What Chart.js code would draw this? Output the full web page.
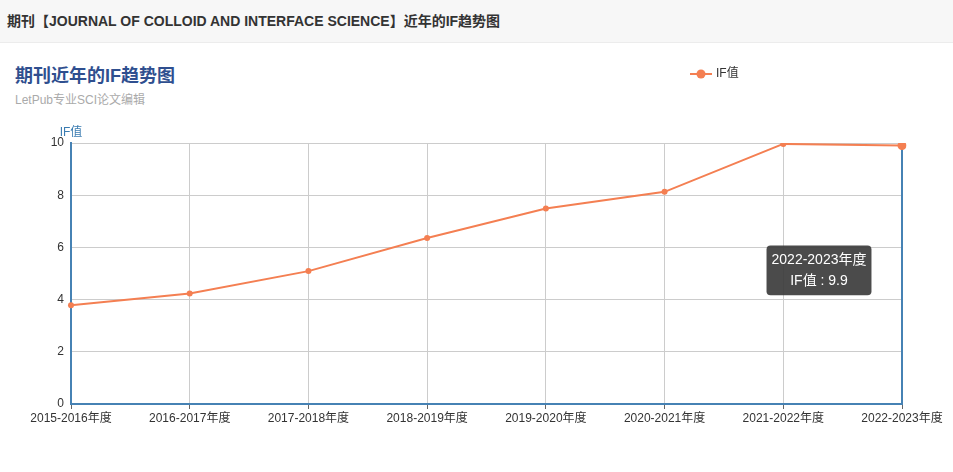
<!DOCTYPE html>
<html>
<head>
<meta charset="utf-8">
<script src="https://cdn.jsdelivr.net/npm/chart.js@4.4.1/dist/chart.umd.min.js"></script>
<style>
    body { margin: 0; background: #fff; font-family: "Liberation Sans", "Noto Sans CJK SC", sans-serif; }
    .header { position: absolute; left: 0; top: 0; width: 953px; height: 42px; background: #f7f7f7; border-bottom: 1px solid #ececec; }
    .header span { position: absolute; left: 7px; top: 13px; font-size: 14px; font-weight: bold; color: #333; line-height: 16px; }
    .title { position: absolute; left: 15px; top: 65px; font-size: 18px; font-weight: bold; color: #2f4f8f; line-height: 22px; }
    .subtitle { position: absolute; left: 15px; top: 93px; font-size: 12px; color: #aaa; line-height: 14px; }
    .wrap { position: absolute; left: 0; top: 43px; width: 953px; height: 429px; }
</style>
</head>
<body>
<div class="header"><span>期刊【JOURNAL OF COLLOID AND INTERFACE SCIENCE】近年的IF趋势图</span></div>
<div class="title">期刊近年的IF趋势图</div>
<div class="subtitle">LetPub专业SCI论文编辑</div>
<div class="wrap"><canvas id="ifChart" width="953" height="429"></canvas></div>
<script>
// Datos del gráfico
const years = ['2015-2016年度', '2016-2017年度', '2017-2018年度', '2018-2019年度', '2019-2020年度', '2020-2021年度', '2021-2022年度', '2022-2023年度'];
const ifValues = [3.782, 4.233, 5.091, 6.361, 7.489, 8.128, 9.965, 9.9];
const yTicks = [0, 2, 4, 6, 8, 10];

const lineColor = '#f47f52';
const axisBlue = '#4682b4';
const fontFam = '"Liberation Sans", "Noto Sans CJK SC", sans-serif';

// Posición fija del tooltip, relativa al punto activo
Chart.Tooltip.positioners.pinned = function (elements) {
    if (!elements.length) return false;
    const el = elements[0].element;
    return { x: el.x - 83, y: el.y + 100 };
};

// Línea vertical del puntero + título del eje y + leyenda
const extras = {
    id: 'extras',
    beforeDatasetsDraw(chart) {
        const ctx = chart.ctx;
        const area = chart.chartArea;
        const active = chart.getActiveElements();
        if (active.length) {
            const x = active[0].element.x;
            ctx.save();
            ctx.strokeStyle = axisBlue;
            ctx.lineWidth = 2;
            ctx.beginPath();
            ctx.moveTo(x, area.top);
            ctx.lineTo(x, area.bottom);
            ctx.stroke();
            ctx.restore();
        }
    },
    afterDraw(chart) {
        const ctx = chart.ctx;
        const area = chart.chartArea;
        ctx.save();
        ctx.font = '12px ' + fontFam;
        ctx.fillStyle = '#3b7cb1';
        ctx.textAlign = 'center';
        ctx.textBaseline = 'middle';
        ctx.fillText('IF值', area.left, area.top - 10);

        // leyenda
        const lx = 690, ly = 31;
        ctx.strokeStyle = lineColor;
        ctx.lineWidth = 2;
        ctx.beginPath();
        ctx.moveTo(lx, ly);
        ctx.lineTo(lx + 22, ly);
        ctx.stroke();
        ctx.fillStyle = lineColor;
        ctx.beginPath();
        ctx.arc(lx + 11, ly, 4.5, 0, Math.PI * 2);
        ctx.fill();
        ctx.fillStyle = '#333';
        ctx.textAlign = 'left';
        ctx.fillText(chart.data.datasets[0].label, lx + 26, ly);
        ctx.restore();
    }
};

const chart = new Chart(document.getElementById('ifChart'), {
    type: 'line',
    data: {
        labels: years,
        datasets: [{
            label: 'IF值',
            data: ifValues,
            borderColor: lineColor,
            backgroundColor: lineColor,
            borderWidth: 2,
            pointRadius: 3,
            pointHoverRadius: 4.5,
            pointBackgroundColor: lineColor,
            pointHoverBackgroundColor: lineColor,
            pointBorderWidth: 0,
            pointHoverBorderWidth: 0,
            tension: 0
        }]
    },
    options: {
        responsive: false,
        animation: false,
        events: [],
        layout: { padding: { left: 0, right: 51, top: 100, bottom: 0 } },
        scales: {
            x: {
                offset: false,
                afterFit(scale) { scale.height = 68; },
                grid: { color: '#cccccc', lineWidth: 1, tickLength: 5, tickColor: '#666' },
                border: { color: axisBlue, width: 2 },
                ticks: { color: '#333', font: { size: 12, family: fontFam }, padding: 2, maxRotation: 0, autoSkip: false }
            },
            y: {
                min: 0,
                max: 10,
                afterFit(scale) { scale.width = 71; },
                afterBuildTicks(scale) { scale.ticks = yTicks.map(v => ({ value: v })); },
                grid: { color: '#cccccc', lineWidth: 1, drawTicks: false },
                border: { color: axisBlue, width: 2 },
                ticks: { color: '#333', font: { size: 12, family: fontFam }, padding: 7 }
            }
        },
        plugins: {
            legend: { display: false },
            tooltip: {
                enabled: true,
                position: 'pinned',
                xAlign: 'center',
                yAlign: 'top',
                caretSize: 0,
                caretPadding: 0,
                backgroundColor: 'rgba(60,60,60,0.92)',
                cornerRadius: 4,
                padding: { left: 5, right: 5, top: 6, bottom: 6 },
                titleFont: { size: 14, weight: 'normal', family: fontFam },
                bodyFont: { size: 14, family: fontFam },
                titleColor: '#fff',
                bodyColor: '#fff',
                titleAlign: 'center',
                bodyAlign: 'center',
                titleMarginBottom: 4,
                displayColors: false,
                callbacks: {
                    label: ctx => ctx.dataset.label + ' : ' + ctx.parsed.y.toFixed(1)
                }
            }
        }
    },
    plugins: [extras]
});

// Activar el último punto como en la captura
const active = [{ datasetIndex: 0, index: years.length - 1 }];
chart.setActiveElements(active);
chart.tooltip.setActiveElements(active, { x: 0, y: 0 });
chart.update();
</script>
</body>
</html>
